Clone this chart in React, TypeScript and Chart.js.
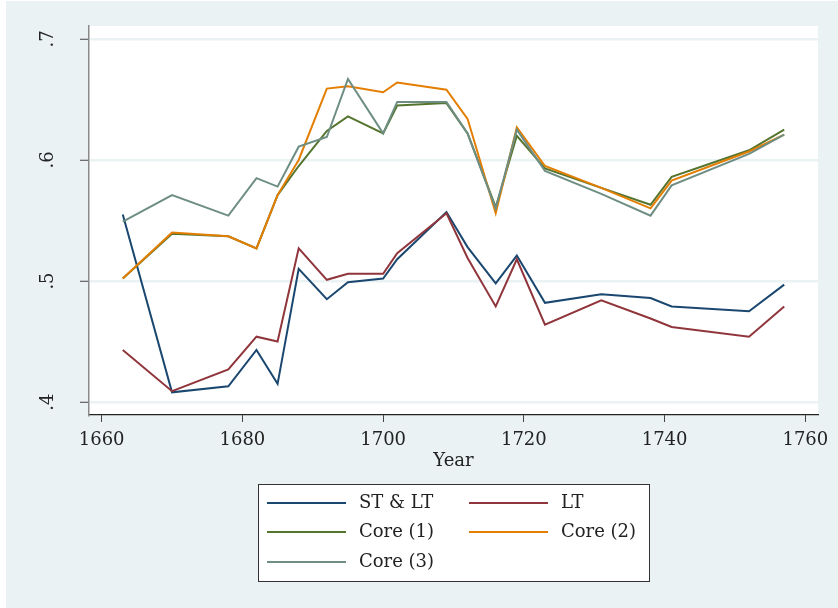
import React, { useEffect, useRef } from "react";
import { Chart, registerables } from "chart.js";

Chart.register(...registerables);

const years = [1663, 1670, 1678, 1682, 1685, 1688, 1692, 1695, 1700, 1702, 1709, 1712, 1716, 1719, 1723, 1731, 1738, 1741, 1752, 1757];
const stLt = [0.555, 0.408, 0.413, 0.443, 0.415, 0.510, 0.485, 0.499, 0.502, 0.518, 0.557, 0.528, 0.498, 0.521, 0.482, 0.489, 0.486, 0.479, 0.475, 0.497];
const lt = [0.443, 0.409, 0.427, 0.454, 0.450, 0.527, 0.501, 0.506, 0.506, 0.523, 0.556, 0.519, 0.479, 0.518, 0.464, 0.484, 0.469, 0.462, 0.454, 0.479];
const core1 = [0.502, 0.539, 0.537, 0.527, 0.571, 0.595, 0.624, 0.636, 0.622, 0.645, 0.647, 0.622, 0.561, 0.620, 0.593, 0.577, 0.563, 0.586, 0.608, 0.625];
const core2 = [0.502, 0.540, 0.537, 0.527, 0.571, 0.600, 0.659, 0.661, 0.656, 0.664, 0.658, 0.634, 0.556, 0.627, 0.595, 0.577, 0.560, 0.583, 0.607, 0.621];
const core3 = [0.549, 0.571, 0.554, 0.585, 0.578, 0.611, 0.619, 0.667, 0.622, 0.648, 0.648, 0.622, 0.560, 0.625, 0.591, 0.572, 0.554, 0.579, 0.605, 0.621];

const seriesLabels = ["ST & LT", "LT", "Core (1)", "Core (2)", "Core (3)"];
const seriesColors = ["#1a476f", "#90353b", "#55752f", "#e37e00", "#6e8e84"];
const xTicks = [1660, 1680, 1700, 1720, 1740, 1760];
const yTicks = [0.4, 0.5, 0.6, 0.7];
const yTickLabels = [".4", ".5", ".6", ".7"];
const xTitle = "Year";

const FONT = "'DejaVu Serif', serif";

export default function App() {
  const ref = useRef<HTMLCanvasElement | null>(null);

  useEffect(() => {
    const canvas = ref.current;
    if (!canvas) return;
    const allSeries = [stLt, lt, core1, core2, core3];

    const bgPlugin = {
      id: "bg",
      beforeDraw(chart: any) {
        const { ctx, chartArea } = chart;
        ctx.save();
        ctx.fillStyle = "#ffffff";
        ctx.fillRect(0, 0, chart.width, chart.height);
        ctx.fillStyle = "#eaf2f3";
        ctx.fillRect(6, 1, chart.width - 6, chart.height - 1);
        ctx.fillStyle = "#ffffff";
        ctx.fillRect(chartArea.left, chartArea.top, chartArea.right - chartArea.left, chartArea.bottom - chartArea.top);
        ctx.restore();
      },
      afterDraw(chart: any) {
        const { ctx, chartArea } = chart;
        const yScale = chart.scales.y;
        ctx.save();
        ctx.fillStyle = "#222";
        ctx.font = `18px ${FONT}`;
        ctx.textAlign = "center";
        ctx.textBaseline = "middle";
        yTicks.forEach((v, i) => {
          const py = yScale.getPixelForValue(v);
          ctx.save();
          ctx.translate(48, py);
          ctx.rotate(-Math.PI / 2);
          ctx.fillText(yTickLabels[i], 0, 0);
          ctx.restore();
        });
        // x title
        ctx.fillText(xTitle, (chartArea.left + chartArea.right) / 2, 461);

        // legend
        const bx = 258.5, by = 484.5, bw = 391, bh = 97;
        ctx.fillStyle = "#ffffff";
        ctx.fillRect(bx, by, bw, bh);
        ctx.strokeStyle = "#333";
        ctx.lineWidth = 1;
        ctx.strokeRect(bx, by, bw, bh);
        const lineX = [267, 469];
        const textX = [359, 561];
        const rowY = [503, 532, 562];
        ctx.textAlign = "left";
        seriesLabels.forEach((lab, i) => {
          const col = i % 2;
          const row = Math.floor(i / 2);
          const y = rowY[row];
          ctx.strokeStyle = seriesColors[i];
          ctx.lineWidth = 2;
          ctx.beginPath();
          ctx.moveTo(lineX[col], y);
          ctx.lineTo(lineX[col] + 79, y);
          ctx.stroke();
          ctx.fillStyle = "#222";
          ctx.fillText(lab, textX[col], y);
        });
        ctx.restore();
      },
    };

    const chart = new Chart(canvas, {
      type: "line",
      data: {
        labels: years,
        datasets: allSeries.map((s, i) => ({
          label: seriesLabels[i],
          data: years.map((yr, j) => ({ x: yr, y: s[j] })),
          borderColor: seriesColors[i],
          backgroundColor: seriesColors[i],
          borderWidth: 2,
          pointRadius: 0,
          tension: 0,
          fill: false,
          order: 5 - i,
        })),
      },
      options: {
        animation: false,
        responsive: false,
        layout: { padding: { left: 0, right: 20, top: 26, bottom: 133 } },
        plugins: { legend: { display: false }, tooltip: { enabled: false } },
        scales: {
          x: {
            type: "linear",
            min: 1658.2,
            max: 1761.8,
            afterBuildTicks: (scale: any) => {
              scale.ticks = xTicks.map((v) => ({ value: v }));
            },
            afterFit: (scale: any) => {
              scale.height = 60;
            },
            ticks: {
              font: { family: FONT, size: 18 },
              color: "#222",
              padding: 8,
              maxRotation: 0,
              callback: (v: any) => String(v),
            },
            grid: {
              drawOnChartArea: false,
              drawTicks: true,
              tickLength: 7,
              tickColor: "#444",
              tickWidth: 1,
            },
            border: { color: "#222", width: 1.2 },
          },
          y: {
            type: "linear",
            min: 0.3893,
            max: 0.7107,
            afterBuildTicks: (scale: any) => {
              scale.ticks = yTicks.map((v) => ({ value: v }));
            },
            afterFit: (scale: any) => {
              scale.width = 89;
            },
            ticks: { display: false },
            grid: {
              color: "#eaf2f3",
              lineWidth: 2.5,
              drawTicks: true,
              tickLength: 9,
              tickColor: "#444",
              tickWidth: 1,
            },
            border: { color: "#8a8a8a", width: 1.5 },
          },
        },
      },
      plugins: [bgPlugin],
    });
    return () => chart.destroy();
  }, []);

  return (
    <div style={{ position: "fixed", left: 0, top: 0, width: 838, height: 608 }}>
      <canvas ref={ref} width={838} height={608} style={{ display: "block" }} />
    </div>
  );
}
